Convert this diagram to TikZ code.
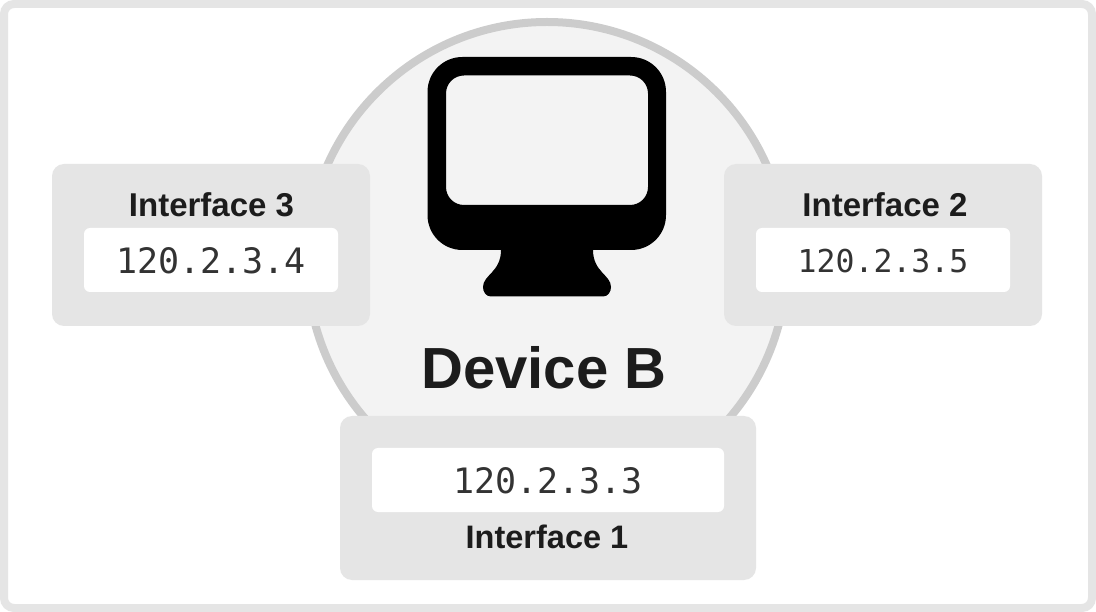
\documentclass[tikz,border=0pt]{standalone}
\usepackage{fontspec}
\setmainfont{Liberation Sans}
\newfontfamily\monof{DejaVu Sans Mono}
\definecolor{frameC}{HTML}{E5E5E5}
\definecolor{ringC}{HTML}{CCCCCC}
\definecolor{discC}{HTML}{F3F3F3}
\definecolor{titleC}{HTML}{1C1C1C}
\definecolor{addrC}{HTML}{333333}
\tikzset{
  x=1pt,y=-1pt,
  panel/.style={fill=frameC,draw=none,rounded corners=12pt},
  slot/.style={fill=white,draw=none,rounded corners=6pt},
  iflabel/.style={inner sep=0pt,text=titleC,font=\fontsize{33}{33}\selectfont\bfseries},
  addr/.style={inner sep=0pt,text=addrC},
}
\begin{document}
\begin{tikzpicture}
\useasboundingbox (0,0) rectangle (1096,612);
\fill[white] (0,0) rectangle (1096,612);
\draw[frameC,line width=8pt,rounded corners=10pt] (4,4) rectangle (1092,608);
% device disc
\draw[ringC,line width=8pt,fill=discC] (547,262) circle[radius=240];
% monitor
\fill[black,even odd rule,rounded corners=0pt]
  (462.5,57) -- (631,57) .. controls (650.5,57) and (666,72.5) .. (666,92)
  -- (666,215) .. controls (666,234.5) and (650.5,250) .. (631,250)
  -- (593,250) .. controls (593,272) and (611,275) .. (611,287)
  .. controls (611,292) and (608,296.5) .. (603,296.5)
  -- (491,296.5) .. controls (486,296.5) and (483,292) .. (483,287)
  .. controls (483,275) and (501,272) .. (501,250)
  -- (462.5,250) .. controls (443,250) and (427.5,234.5) .. (427.5,215)
  -- (427.5,92) .. controls (427.5,72.5) and (443,57) .. (462.5,57) -- cycle
  (464,75.5) .. controls (454,75.5) and (446,83.5) .. (446,93.5)
  -- (446,187) .. controls (446,197) and (454,205) .. (464,205)
  -- (630,205) .. controls (640,205) and (648,197) .. (648,187)
  -- (648,93.5) .. controls (648,83.5) and (640,75.5) .. (630,75.5) -- cycle;
\node[inner sep=0pt,text=titleC,font=\fontsize{58}{58}\selectfont\bfseries] (device) at (544,368) {Device B};
% interface 3
\fill[panel] (52,164) rectangle (370,326);
\fill[slot] (84,228) rectangle (338,292);
\node[iflabel] (if3) at (211.5,205) {Interface 3};
\node[addr,font=\monof\fontsize{35}{35}\selectfont] (ip3) at (211,261) {120.2.3.4};
% interface 2
\fill[panel] (724,164) rectangle (1042,326);
\fill[slot] (756,228) rectangle (1010,292);
\node[iflabel] (if2) at (885,205) {Interface 2};
\node[addr,font=\monof\fontsize{31.5}{31.5}\selectfont] (ip2) at (883,261) {120.2.3.5};
% interface 1
\fill[panel] (340,416) rectangle (756,580);
\fill[slot] (372,448) rectangle (724,512);
\node[iflabel,font=\fontsize{32.5}{33}\selectfont\bfseries] (if1) at (547,537) {Interface 1};
\node[addr,font=\monof\fontsize{35}{35}\selectfont] (ip1) at (548,481) {120.2.3.3};
\end{tikzpicture}
\end{document}
